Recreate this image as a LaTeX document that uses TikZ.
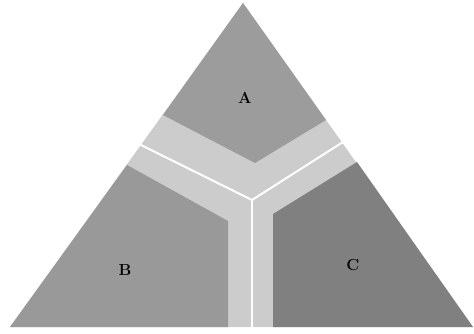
\documentclass[tikz,border=0pt]{standalone}
\usepackage{fontspec}
\begin{document}
\begin{tikzpicture}[x=1pt,y=-1pt,
  region/.style={fill=#1,draw=none},
  road/.style={draw=white,line width=2pt,line cap=round,line join=round},
  lab/.style={font=\fontsize{16}{16}\selectfont\bfseries,text=black,inner sep=0pt}]
\useasboundingbox (0,0) rectangle (474,334);
% whole triangle as road colour
\path[region=black!20] (243,3) -- (473,327) -- (10,327) -- cycle;
% region A
\path[region=black!39] (243,3) -- (326,120) -- (255,163) -- (163,115) -- cycle;
% region B
\path[region=black!40] (127,165) -- (228,221) -- (228,327) -- (10,327) -- cycle;
% region C
\path[region=black!50] (357,162) -- (273,214) -- (273,327) -- (473,327) -- cycle;
% white road lines
\coordinate (j) at (252,200);
\coordinate (l) at (141,145);
\coordinate (r) at (343,142);
\coordinate (b) at (252,332);
\draw[road] (l) -- (j) -- (r);
\draw[road] (j) -- (b);
% labels
\node[lab] (A) at (245,98) {A};
\node[lab] (B) at (125,270) {B};
\node[lab] (C) at (353,265) {C};
\end{tikzpicture}
\end{document}
